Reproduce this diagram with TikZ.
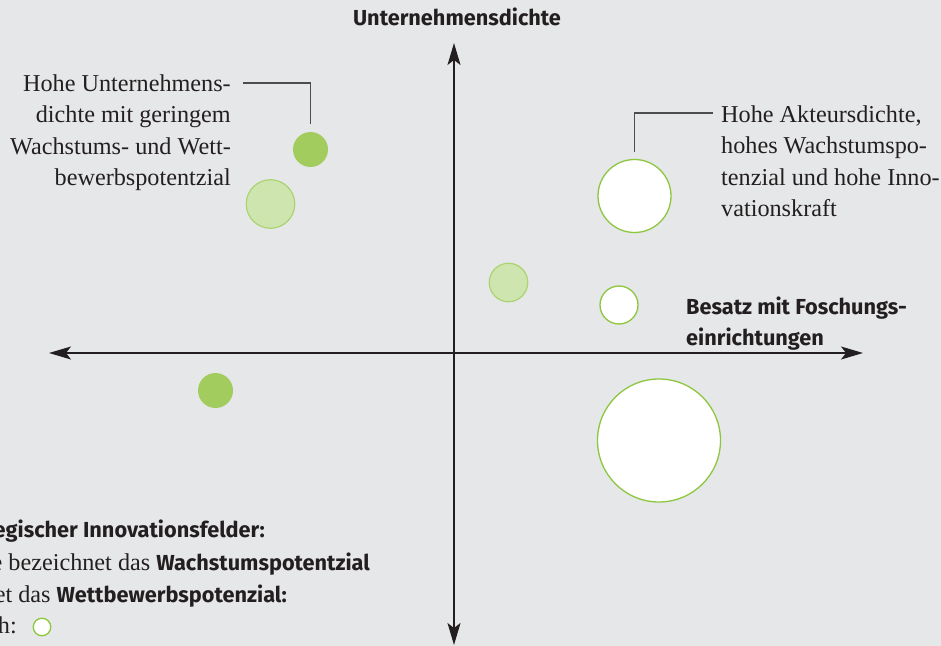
\documentclass[tikz,border=0pt]{standalone}
\usepackage{fontspec}
\setmainfont{Liberation Serif}
\newfontfamily\labfont{Fira Sans}
\usetikzlibrary{arrows.meta}
\definecolor{bg}{HTML}{E6E7E8}
\definecolor{lime}{HTML}{8DC63F}
\definecolor{dkgreen}{HTML}{A2CD5E}
\definecolor{ltgreen}{HTML}{CFE5B0}
\definecolor{ltedge}{HTML}{A9D46E}
\definecolor{ink}{HTML}{231F20}
\definecolor{leader}{HTML}{4D4D4F}
\newcommand{\boldlab}{\labfont\bfseries\fontsize{21.8}{31.5}\selectfont}
\begin{document}
\begin{tikzpicture}[x=1bp,y=-1bp,
  serif/.style={inner sep=0pt, text=ink, font=\fontsize{24.3}{31.7}\selectfont},
  lab/.style={inner sep=0pt, text=ink, font=\boldlab},
  axisline/.style={draw=ink, line width=1.3bp,
    {Stealth[length=22bp,width=13bp,inset=5bp]}-{Stealth[length=22bp,width=13bp,inset=5bp]}},
  callout/.style={draw=leader, line width=1.5bp},
  dkdot/.style={circle, inner sep=0pt, fill=dkgreen},
  ltdot/.style={circle, inner sep=0pt, fill=ltgreen, draw=ltedge, line width=1.2bp},
  whdot/.style={circle, inner sep=0pt, fill=white, draw=lime, line width=1.3bp}]
\fill[bg] (0,0) rectangle (941,646);
\useasboundingbox (0,0) rectangle (941,646);

% axes
\coordinate (xl) at (49,353);
\coordinate (xr) at (863,353);
\coordinate (yt) at (454,43);
\coordinate (yb) at (454,645);
\draw[axisline] (xl) -- (xr);
\draw[axisline] (yt) -- (yb);

% axis labels
\node[lab, anchor=base] (title) at (457,26) {Unternehmensdichte};
\node[lab, align=left, anchor=base west] (xlab) at (686,345.5) {Besatz mit Foschungs-\\einrichtungen};

% circles
\node[dkdot, minimum size=35bp] (c1) at (310.5,149.5) {};
\node[ltdot, minimum size=48.5bp] (c2) at (270.5,204) {};
\node[whdot, minimum size=73bp] (c3) at (634.5,196) {};
\node[ltdot, minimum size=38.5bp] (c4) at (508.5,282.5) {};
\node[whdot, minimum size=38bp] (c5) at (619,305) {};
\node[dkdot, minimum size=35bp] (c6) at (215.5,390.5) {};
\node[whdot, minimum size=123bp] (c7) at (659,440.5) {};

% callout texts (base = last line)
\node[serif, align=right, anchor=base east] (ltxt) at (231,186)
  {Hohe Unternehmens-\\dichte mit geringem\\Wachstums- und Wett-\\bewerbspotentzial};
\node[serif, align=left, anchor=base west] (rtxt) at (721,217)
  {Hohe Akteursdichte,\\hohes Wachstumspo-\\tenzial und hohe Inno-\\vationskraft};

% callout leaders
\coordinate (lstart) at (243,83);
\coordinate (rstart) at (713,113);
\draw[callout] (lstart) -| ([yshift=8bp]c1.north);
\draw[callout] (rstart) -| ([yshift=7bp]c3.north);

% legend (cut off at left edge)
\node[lab, anchor=base east] (lg1) at (265,537) {egischer Innovationsfelder:};
\node[serif, anchor=base east] (lg2) at (370,570)
  {e bezeichnet das {\boldlab Wachstumspotentzial}};
\node[serif, anchor=base east] (lg3) at (287,602)
  {et das {\boldlab Wettbewerbspotenzial:}};
\node[serif, anchor=base east] (lg4) at (17,633) {h:};
\node[whdot, minimum size=17.5bp] (lgc) at (42,627) {};
\end{tikzpicture}
\end{document}
